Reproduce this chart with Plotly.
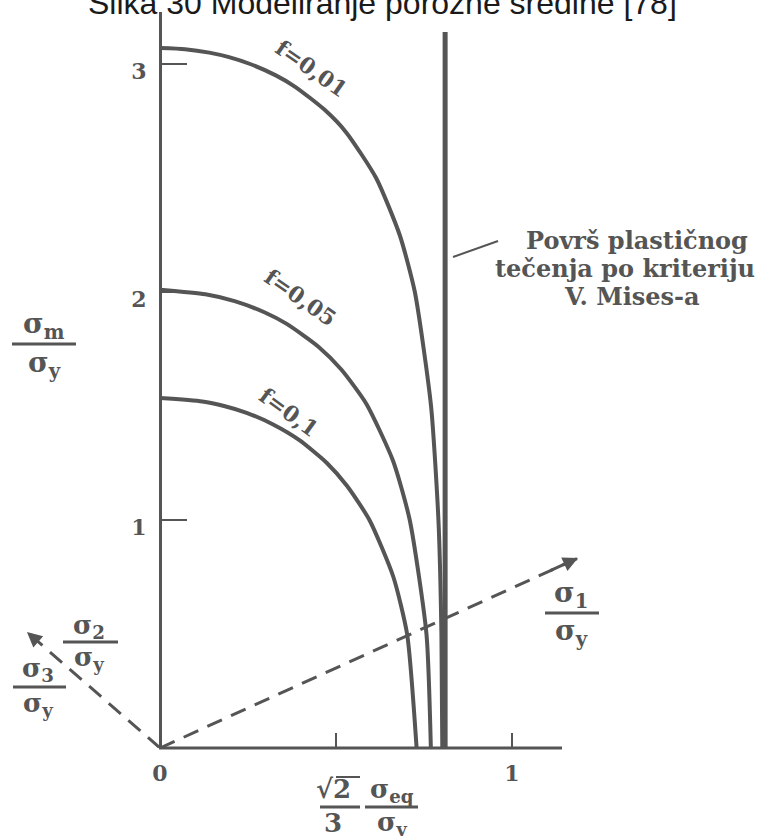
import plotly.graph_objects as go

# ---------------- data ----------------
f001_x = [0, 0.071, 0.140, 0.196, 0.256, 0.329, 0.384, 0.467, 0.529, 0.614, 0.681, 0.724, 0.770, 0.791, 0.7995, 0.802]
f001_y = [3.07, 3.065, 3.05, 3.03, 3.0, 2.95, 2.9, 2.8, 2.7, 2.5, 2.25, 2.0, 1.5, 1.0, 0.5, 0]

f005_x = [0, 0.129, 0.212, 0.298, 0.360, 0.450, 0.515, 0.586, 0.662, 0.7095, 0.757, 0.7695]
f005_y = [2.01, 1.99, 1.96, 1.91, 1.86, 1.76, 1.66, 1.51, 1.26, 1.0, 0.5, 0]

f01_x = [0, 0.120, 0.182, 0.246, 0.320, 0.396, 0.474, 0.531, 0.595, 0.663, 0.702, 0.729]
f01_y = [1.535, 1.52, 1.5, 1.47, 1.42, 1.35, 1.25, 1.15, 1.0, 0.75, 0.5, 0]

mises_x = [0.81, 0.81]
mises_y = [0, 3.14]

sigma1_x = [0, 1.1875]
sigma1_y = [0, 0.833]
sigma3_x = [0, -0.378]
sigma3_y = [0, 0.509]

curve_labels = ["f=0,01", "f=0,05", "f=0,1"]
y_tickvals = [1, 2, 3]
x_tickvals = [0, 0.5, 1]
x_ticktext = ["0", "", "1"]
mises_text = ["Površ plastičnog", "tečenja po kriteriju", "V. Mises-a"]
title_text = "Slika 30 Modeliranje porozne sredine [78]"

# ---------------- styling / geometry ----------------
W, H = 760, 836
PT, PB = 12, 748            # plot area top / bottom in px
X0PX, SX = 160, 352         # x=0 pixel, px per unit
GRAY = "#555555"
SERIF = "DejaVu Serif"

def px_x(px):   # px -> paper x
    return px / W

def px_y(py):   # px -> paper y
    return (PB - py) / (PB - PT)

x_range = [-X0PX / SX, (W - X0PX) / SX]
y_range = [0, (PB - PT) / 228.0]

fig = go.Figure()

line_w = 4
for xs, ys in [(f001_x, f001_y), (f005_x, f005_y), (f01_x, f01_y)]:
    fig.add_trace(go.Scatter(x=xs, y=ys, mode="lines",
                             line=dict(color=GRAY, width=line_w, shape="spline", smoothing=0.6),
                             hoverinfo="skip", showlegend=False))

fig.add_trace(go.Scatter(x=mises_x, y=mises_y, mode="lines",
                         line=dict(color=GRAY, width=5), hoverinfo="skip", showlegend=False))

for xs, ys in [(sigma1_x, sigma1_y), (sigma3_x, sigma3_y)]:
    fig.add_trace(go.Scatter(x=xs, y=ys, mode="lines",
                             line=dict(color=GRAY, width=3, dash="16px,10px"),
                             hoverinfo="skip", showlegend=False))

annotations = []
shapes = []

def text_at(txt, cx, cy, size, angle=0, family=SERIF, color=GRAY):
    annotations.append(dict(x=px_x(cx), y=px_y(cy), xref="paper", yref="paper", text=txt,
                            xanchor="center", yanchor="middle", showarrow=False, textangle=angle,
                            font=dict(family=family, size=size, color=color)))

# arrowheads at the ends of the dashed axes
for xs, ys in [(sigma1_x, sigma1_y), (sigma3_x, sigma3_y)]:
    tx, ty = xs[-1], ys[-1]
    bx, by = xs[0] + (tx - xs[0]) * 0.93, ys[0] + (ty - ys[0]) * 0.93
    annotations.append(dict(x=tx, y=ty, ax=bx, ay=by, xref="x", yref="y", axref="x", ayref="y",
                            text="", showarrow=True, arrowhead=2, arrowsize=1.0, arrowwidth=3,
                            arrowcolor=GRAY, standoff=0, startstandoff=0))

# x-axis line (from origin to the right)
shapes.append(dict(type="line", xref="paper", yref="paper", x0=px_x(159), x1=px_x(562),
                   y0=px_y(748), y1=px_y(748), line=dict(color=GRAY, width=3)))

# curve labels
label_pos = [(311, 68, 35), (300, 297, 35), (289, 412, 36)]
for txt, (cx, cy, ang) in zip(curve_labels, label_pos):
    text_at(f"<b>{txt}</b>", cx, cy, 22, ang)

# von Mises text block + leader line
for txt, cx, cy in zip(mises_text, [637, 625, 632], [241, 268, 296]):
    text_at(f"<b>{txt}</b>", cx, cy, 24)
shapes.append(dict(type="line", xref="paper", yref="paper", x0=px_x(453), y0=px_y(257),
                   x1=px_x(498), y1=px_y(241), line=dict(color=GRAY, width=2)))

# fractions
def fraction(num, den, cx, y_num, y_line, y_den, lx0, lx1, size=28):
    text_at(f"<b>{num}</b>", cx, y_num, size)
    text_at(f"<b>{den}</b>", cx, y_den, size)
    shapes.append(dict(type="line", xref="paper", yref="paper", x0=px_x(lx0), x1=px_x(lx1),
                       y0=px_y(y_line), y1=px_y(y_line), line=dict(color=GRAY, width=3)))

fraction("σ<sub>m</sub>", "σ<sub>y</sub>", 44, 326, 344, 364, 12, 76)
fraction("σ<sub>1</sub>", "σ<sub>y</sub>", 571, 594, 613, 632, 545, 599)
fraction("σ<sub>2</sub>", "σ<sub>y</sub>", 89, 626, 642, 658, 63, 118, size=26)
fraction("σ<sub>3</sub>", "σ<sub>y</sub>", 38, 669, 687, 704, 13, 66, size=26)
fraction("σ<sub>eq</sub>", "σ<sub>y</sub>", 392, 790, 807, 824, 365, 418, size=26)
fraction("√2", "3", 333, 789, 807, 823, 320, 360, size=26)
# overline of the square root
shapes.append(dict(type="line", xref="paper", yref="paper", x0=px_x(336), x1=px_x(360),
                   y0=px_y(777), y1=px_y(777), line=dict(color=GRAY, width=2)))

# title (partly cut at the top)
text_at(title_text, 383, 3, 32, family="Liberation Sans", color="#1a1a1a")

fig.update_layout(
    width=W, height=H,
    margin=dict(l=0, r=0, t=PT, b=H - PB, pad=0),
    plot_bgcolor="white", paper_bgcolor="white",
    showlegend=False,
    xaxis=dict(range=x_range, showgrid=False, zeroline=False, showline=False,
               ticks="inside", ticklen=15, tickwidth=2, tickcolor=GRAY,
               tickvals=x_tickvals, ticktext=x_ticktext,
               tickfont=dict(family=SERIF, size=22, color=GRAY, weight="bold"),
               ticklabelstandoff=10),
    yaxis=dict(range=y_range, showgrid=False, zeroline=False, showline=True,
               linecolor=GRAY, linewidth=3, anchor="free", position=X0PX / W,
               ticks="inside", ticklen=25, tickwidth=2, tickcolor=GRAY,
               tickvals=y_tickvals, tickfont=dict(family=SERIF, size=22, color=GRAY, weight="bold"),
               ticklabelstandoff=8, ticklabelshift=7),
    annotations=annotations,
    shapes=shapes,
)

fig.write_html("out.html", config={"displayModeBar": False},
               post_script="document.body.style.margin='0';")
